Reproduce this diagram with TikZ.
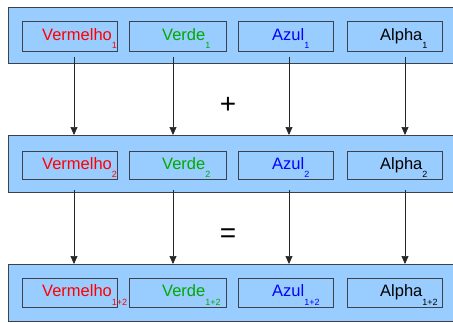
\documentclass[tikz,border=0pt]{standalone}
\usepackage{fontspec}
\setmainfont{Liberation Sans}
\usetikzlibrary{arrows.meta}
\definecolor{bandblue}{RGB}{153,204,255}
\definecolor{edgecol}{RGB}{60,66,74}
\definecolor{vred}{RGB}{255,0,0}
\definecolor{vgreen}{RGB}{0,170,0}
\definecolor{vblue}{RGB}{0,0,255}
\newcommand{\lowsub}[1]{\raisebox{-8.5pt}{\fontsize{9}{10}\selectfont #1}}
\begin{document}
\begin{tikzpicture}[x=1pt,y=-1pt,
 band/.style={draw=edgecol, line width=0.9pt, fill=bandblue, anchor=north west, inner sep=0, minimum width=460pt, minimum height=57pt},
 cell/.style={draw=edgecol, line width=0.8pt, fill=bandblue, anchor=north west, inner sep=0, minimum width=95pt},
 lbl/.style={anchor=base west, inner sep=0, font=\fontsize{16.5}{19}\selectfont},
 arr/.style={draw=black!85, line width=0.7pt, -{Triangle[length=8pt,width=7pt]}},
 op/.style={font=\fontsize{28}{30}\selectfont, inner sep=0, anchor=center}]
\useasboundingbox (0,0) rectangle (453,322);
\clip (0,0) rectangle (453,322);
% bands
\node[band, minimum height=56pt] (b1) at (8,7) {};
\node[band] (b2) at (8,135) {};
\node[band] (b3) at (8,264) {};
% cells
\foreach \r/\top/\h in {1/21/30, 2/151/28, 3/278/29}{
  \node[cell, minimum height=\h pt] (c\r1) at (22,\top) {};
  \node[cell, minimum height=\h pt, minimum width=97pt] (c\r2) at (129,\top) {};
  \node[cell, minimum height=\h pt] (c\r3) at (238,\top) {};
  \node[cell, minimum height=\h pt] (c\r4) at (347,\top) {};
}
% labels
\foreach \r/\base/\s in {1/40/1, 2/169/2, 3/296.5/1+2}{
  \node[lbl, text=vred] (t\r1) at (42,\base) {Vermelho\lowsub{\s}};
  \node[lbl, text=vgreen] (t\r2) at (162,\base) {Verde\lowsub{\s}};
  \node[lbl, text=vblue] (t\r3) at (272,\base) {Azul\lowsub{\s}};
  \node[lbl, text=black] (t\r4) at (380,\base) {Alpha\lowsub{\s}};
}
% operators
\node[op] (plus) at (228,105) {+};
\node[op] (eq) at (228,235.5) {=};
% arrows
\foreach \i/\x in {1/74, 2/173, 3/289, 4/405}{
  \coordinate (s1\i) at (\x,57);
  \coordinate (s2\i) at (\x,190);
  \draw[arr] (s1\i) -- (s1\i |- b2.north);
  \draw[arr] (s2\i) -- (s2\i |- b3.north);
}
\end{tikzpicture}
\end{document}
